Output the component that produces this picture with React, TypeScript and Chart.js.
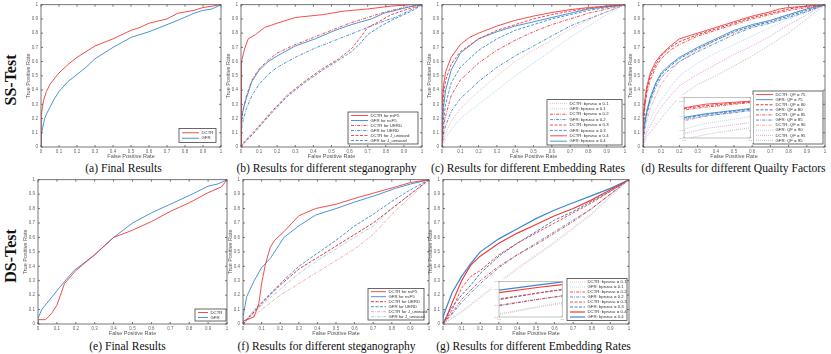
import React, { useEffect, useRef } from "react";
import { Chart, registerables } from "chart.js";

Chart.register(...registerables);
Chart.defaults.font.family = "'Liberation Sans', Arial, Helvetica, sans-serif";

type P = [number, number];

// ---------------- tick labels / texts ----------------
const TICK_VALUES = [0, 0.1, 0.2, 0.3, 0.4, 0.5, 0.6, 0.7, 0.8, 0.9, 1];
const TICK_LABELS = ["0", "0.1", "0.2", "0.3", "0.4", "0.5", "0.6", "0.7", "0.8", "0.9", "1"];
const X_TITLE = "False Positive Rate";
const Y_TITLE = "True Positive Rate";
const ROW_LABELS = ["SS-Test", "DS-Test"];

const LABELS_FINAL = ["DCTR", "GFR"];
const LABELS_STEGO = ["DCTR for nsF5", "GFR for nsF5", "DCTR for UERD", "GFR for UERD", "DCTR for J_uniward", "GFR for J_uniward"];
const LABELS_RATE = [
  "DCTR: bpnzac = 0.1", "GFR: bpnzac = 0.1", "DCTR: bpnzac = 0.2", "GFR: bpnzac = 0.2",
  "DCTR: bpnzac = 0.3", "GFR: bpnzac = 0.3", "DCTR: bpnzac = 0.4", "GFR: bpnzac = 0.4",
];
const LABELS_QF = [
  "DCTR: QF = 75", "GFR: QF = 75", "DCTR: QF = 80", "GFR: QF = 80", "DCTR: QF = 85",
  "GFR: QF = 85", "DCTR: QF = 90", "GFR: QF = 90", "DCTR: QF = 95", "GFR: QF = 95",
];
const CAPTIONS = [
  "(a) Final Results",
  "(b) Results for different steganography",
  "(c) Results for different Embedding Rates",
  "(d) Results for different Quailty Factors",
  "(e) Final Results",
  "(f) Results for different steganography",
  "(g) Results for different Embedding Rates",
];

// ---------------- (a) SS-Test final ----------------
const A_DCTR: P[] = [[0,0],[0,0.1],[0.003,0.22],[0.008,0.28],[0.015,0.33],[0.03,0.39],[0.05,0.44],[0.08,0.49],[0.1,0.52],[0.15,0.58],[0.2,0.63],[0.25,0.67],[0.3,0.71],[0.4,0.76],[0.5,0.82],[0.55,0.84],[0.6,0.87],[0.7,0.9],[0.76,0.94],[0.85,0.96],[0.9,0.98],[0.95,0.99],[1,1]];
const A_GFR: P[] = [[0,0],[0,0.08],[0.01,0.14],[0.02,0.2],[0.03,0.23],[0.05,0.28],[0.07,0.33],[0.1,0.39],[0.15,0.46],[0.2,0.51],[0.25,0.56],[0.3,0.62],[0.4,0.7],[0.5,0.77],[0.6,0.81],[0.7,0.86],[0.76,0.89],[0.85,0.94],[0.9,0.96],[0.95,0.97],[1,1]];

// ---------------- (b) SS-Test steganography ----------------
const B_DCTR_NSF5: P[] = [[0,0],[0,0.44],[0.005,0.6],[0.02,0.69],[0.04,0.76],[0.08,0.79],[0.13,0.84],[0.2,0.87],[0.3,0.91],[0.45,0.93],[0.57,0.955],[0.7,0.97],[0.83,0.99],[0.94,1],[1,1]];
const B_GFR_NSF5: P[] = [[0,0],[0,0.18],[0.015,0.28],[0.03,0.345],[0.06,0.46],[0.1,0.54],[0.15,0.6],[0.2,0.64],[0.3,0.71],[0.41,0.76],[0.52,0.82],[0.61,0.86],[0.72,0.9],[0.79,0.94],[0.9,0.975],[0.98,1],[1,1]];
const B_DCTR_UERD: P[] = [[0,0],[0,0.15],[0.01,0.25],[0.03,0.36],[0.06,0.47],[0.1,0.55],[0.15,0.61],[0.2,0.66],[0.3,0.72],[0.4,0.77],[0.5,0.82],[0.6,0.87],[0.7,0.91],[0.8,0.95],[0.9,0.98],[1,1]];
const B_GFR_UERD: P[] = [[0,0],[0,0.1],[0.01,0.18],[0.03,0.27],[0.06,0.36],[0.1,0.44],[0.15,0.51],[0.2,0.56],[0.3,0.63],[0.4,0.69],[0.5,0.74],[0.6,0.79],[0.7,0.84],[0.8,0.89],[0.85,0.91],[0.9,0.94],[1,1]];
const B_DCTR_JUNI: P[] = [[0,0],[0.02,0.04],[0.08,0.12],[0.17,0.25],[0.26,0.37],[0.35,0.46],[0.45,0.55],[0.54,0.62],[0.61,0.69],[0.66,0.77],[0.7,0.84],[0.76,0.88],[0.83,0.93],[0.9,0.96],[0.95,0.98],[1,1]];
const B_GFR_JUNI: P[] = [[0,0],[0.02,0.03],[0.08,0.11],[0.17,0.24],[0.26,0.36],[0.35,0.45],[0.45,0.54],[0.54,0.61],[0.61,0.67],[0.66,0.73],[0.7,0.79],[0.76,0.84],[0.83,0.89],[0.9,0.93],[0.95,0.96],[1,1]];

// ---------------- (c) SS-Test embedding rates ----------------
const C_DCTR_01: P[] = [[0,0],[0.02,0.1],[0.05,0.18],[0.1,0.27],[0.2,0.39],[0.3,0.5],[0.4,0.6],[0.5,0.68],[0.6,0.75],[0.7,0.83],[0.8,0.89],[0.9,0.95],[1,1]];
const C_GFR_01: P[] = [[0,0],[0.02,0.06],[0.05,0.12],[0.1,0.2],[0.2,0.3],[0.3,0.4],[0.4,0.5],[0.5,0.59],[0.6,0.68],[0.7,0.77],[0.8,0.85],[0.9,0.93],[1,1]];
const C_DCTR_02: P[] = [[0,0],[0.01,0.15],[0.02,0.22],[0.05,0.36],[0.1,0.47],[0.2,0.59],[0.3,0.68],[0.4,0.75],[0.5,0.81],[0.6,0.86],[0.7,0.9],[0.8,0.94],[0.9,0.97],[1,1]];
const C_GFR_02: P[] = [[0,0],[0.01,0.1],[0.02,0.15],[0.05,0.25],[0.1,0.34],[0.2,0.46],[0.3,0.56],[0.4,0.64],[0.5,0.71],[0.6,0.78],[0.7,0.85],[0.8,0.9],[0.9,0.95],[1,1]];
const C_DCTR_03: P[] = [[0,0],[0,0.2],[0.01,0.38],[0.02,0.47],[0.05,0.58],[0.1,0.67],[0.2,0.76],[0.3,0.82],[0.4,0.86],[0.5,0.9],[0.6,0.93],[0.7,0.955],[0.8,0.975],[0.9,0.99],[1,1]];
const C_GFR_03: P[] = [[0,0],[0.01,0.2],[0.02,0.3],[0.05,0.45],[0.1,0.56],[0.2,0.68],[0.3,0.76],[0.4,0.82],[0.5,0.86],[0.6,0.9],[0.7,0.93],[0.8,0.96],[0.9,0.98],[1,1]];
const C_DCTR_04: P[] = [[0,0],[0,0.3],[0.01,0.45],[0.02,0.53],[0.05,0.63],[0.1,0.72],[0.15,0.77],[0.2,0.8],[0.3,0.85],[0.4,0.89],[0.5,0.92],[0.6,0.945],[0.7,0.965],[0.8,0.98],[0.9,0.99],[1,1]];
const C_GFR_04: P[] = [[0,0],[0,0.1],[0.01,0.3],[0.02,0.4],[0.05,0.54],[0.1,0.66],[0.2,0.76],[0.3,0.81],[0.4,0.85],[0.5,0.88],[0.6,0.91],[0.7,0.94],[0.8,0.97],[0.9,0.985],[1,1]];

// ---------------- (d) SS-Test quality factors ----------------
const D_DCTR_75: P[] = [[0,0],[0,0.2],[0.01,0.33],[0.02,0.42],[0.04,0.52],[0.07,0.6],[0.1,0.65],[0.15,0.71],[0.2,0.76],[0.3,0.8],[0.4,0.84],[0.5,0.88],[0.6,0.92],[0.7,0.95],[0.75,0.97],[0.8,0.98],[0.9,0.99],[1,1]];
const D_GFR_75: P[] = [[0,0],[0,0.08],[0.01,0.18],[0.02,0.25],[0.04,0.35],[0.07,0.45],[0.1,0.52],[0.15,0.58],[0.2,0.63],[0.3,0.7],[0.4,0.76],[0.5,0.82],[0.6,0.86],[0.7,0.89],[0.8,0.93],[0.9,0.97],[1,1]];
const D_DCTR_80: P[] = [[0,0],[0,0.15],[0.01,0.3],[0.02,0.4],[0.04,0.5],[0.07,0.58],[0.1,0.64],[0.15,0.7],[0.2,0.74],[0.3,0.79],[0.4,0.83],[0.5,0.87],[0.6,0.91],[0.7,0.94],[0.8,0.97],[0.9,0.99],[1,1]];
const D_GFR_80: P[] = [[0,0],[0,0.07],[0.01,0.17],[0.02,0.24],[0.04,0.34],[0.07,0.44],[0.1,0.51],[0.15,0.57],[0.2,0.62],[0.3,0.69],[0.4,0.75],[0.5,0.81],[0.6,0.85],[0.7,0.88],[0.8,0.92],[0.9,0.96],[1,1]];
const D_DCTR_85: P[] = [[0,0],[0,0.12],[0.01,0.27],[0.02,0.37],[0.04,0.47],[0.07,0.56],[0.1,0.62],[0.15,0.68],[0.2,0.72],[0.3,0.78],[0.4,0.82],[0.5,0.86],[0.6,0.9],[0.7,0.93],[0.8,0.96],[0.9,0.98],[1,1]];
const D_GFR_85: P[] = [[0,0],[0,0.06],[0.01,0.15],[0.02,0.22],[0.04,0.32],[0.07,0.42],[0.1,0.49],[0.15,0.55],[0.2,0.6],[0.3,0.67],[0.4,0.73],[0.5,0.79],[0.6,0.84],[0.7,0.87],[0.8,0.91],[0.9,0.95],[1,1]];
const D_DCTR_90: P[] = [[0,0],[0.01,0.12],[0.02,0.18],[0.04,0.27],[0.07,0.36],[0.1,0.44],[0.15,0.53],[0.2,0.6],[0.3,0.68],[0.4,0.75],[0.5,0.8],[0.6,0.85],[0.7,0.89],[0.8,0.93],[0.9,0.97],[1,1]];
const D_GFR_90: P[] = [[0,0],[0.01,0.08],[0.02,0.12],[0.04,0.19],[0.07,0.27],[0.1,0.33],[0.15,0.42],[0.2,0.5],[0.3,0.59],[0.4,0.66],[0.5,0.72],[0.6,0.78],[0.7,0.84],[0.8,0.9],[0.9,0.95],[1,1]];
const D_DCTR_95: P[] = [[0,0],[0.01,0.06],[0.02,0.1],[0.04,0.15],[0.07,0.22],[0.1,0.28],[0.15,0.36],[0.2,0.43],[0.3,0.51],[0.4,0.58],[0.5,0.65],[0.6,0.71],[0.7,0.78],[0.8,0.86],[0.9,0.93],[1,1]];
const D_GFR_95: P[] = [[0,0],[0.01,0.04],[0.02,0.07],[0.05,0.12],[0.1,0.2],[0.15,0.28],[0.2,0.35],[0.3,0.44],[0.4,0.5],[0.5,0.57],[0.6,0.64],[0.7,0.72],[0.8,0.8],[0.9,0.9],[1,1]];

// ---------------- (e) DS-Test final ----------------
const E_DCTR: P[] = [[0,0],[0,0.03],[0.04,0.03],[0.07,0.07],[0.1,0.13],[0.14,0.28],[0.2,0.37],[0.3,0.48],[0.4,0.6],[0.5,0.65],[0.6,0.71],[0.7,0.78],[0.8,0.84],[0.9,0.91],[0.97,0.95],[1,1]];
const E_GFR: P[] = [[0,0],[0,0.04],[0.02,0.1],[0.06,0.165],[0.115,0.255],[0.19,0.37],[0.3,0.48],[0.4,0.6],[0.5,0.7],[0.6,0.77],[0.7,0.83],[0.8,0.89],[0.9,0.955],[0.95,0.97],[1,1]];

// ---------------- (f) DS-Test steganography ----------------
const F_DCTR_NSF5: P[] = [[0,0],[0,0.02],[0.06,0.05],[0.085,0.14],[0.1,0.28],[0.12,0.41],[0.146,0.53],[0.17,0.58],[0.22,0.64],[0.3,0.75],[0.39,0.8],[0.5,0.83],[0.6,0.87],[0.71,0.91],[0.82,0.95],[0.9,0.98],[1,1]];
const F_GFR_NSF5: P[] = [[0,0],[0,0.05],[0.01,0.12],[0.02,0.19],[0.06,0.3],[0.1,0.39],[0.15,0.46],[0.22,0.6],[0.3,0.68],[0.39,0.755],[0.5,0.8],[0.6,0.845],[0.71,0.89],[0.82,0.94],[0.9,0.97],[1,1]];
const F_DCTR_UERD: P[] = [[0,0],[0.05,0.07],[0.1,0.14],[0.2,0.27],[0.3,0.38],[0.4,0.46],[0.5,0.54],[0.6,0.62],[0.7,0.7],[0.8,0.8],[0.9,0.9],[1,1]];
const F_GFR_UERD: P[] = [[0,0],[0.05,0.08],[0.1,0.15],[0.2,0.28],[0.3,0.4],[0.4,0.49],[0.5,0.58],[0.6,0.68],[0.7,0.76],[0.8,0.85],[0.9,0.93],[1,1]];
const F_DCTR_JUNI: P[] = [[0,0],[0.1,0.1],[0.2,0.2],[0.3,0.28],[0.4,0.36],[0.5,0.44],[0.6,0.52],[0.7,0.62],[0.8,0.76],[0.9,0.88],[1,1]];
const F_GFR_JUNI: P[] = [[0,0],[0.1,0.13],[0.2,0.24],[0.3,0.35],[0.4,0.44],[0.5,0.52],[0.6,0.6],[0.7,0.68],[0.8,0.8],[0.9,0.9],[1,1]];

// ---------------- (g) DS-Test embedding rates ----------------
const G_DCTR_01: P[] = [[0,0],[0.1,0.08],[0.2,0.18],[0.3,0.28],[0.4,0.38],[0.5,0.47],[0.6,0.56],[0.7,0.66],[0.8,0.76],[0.9,0.88],[1,1]];
const G_GFR_01: P[] = [[0,0],[0.1,0.09],[0.2,0.19],[0.3,0.29],[0.4,0.39],[0.5,0.48],[0.6,0.57],[0.7,0.67],[0.8,0.77],[0.9,0.89],[1,1]];
const G_DCTR_02: P[] = [[0,0],[0.05,0.08],[0.1,0.17],[0.2,0.3],[0.3,0.4],[0.4,0.48],[0.5,0.55],[0.6,0.63],[0.7,0.71],[0.8,0.8],[0.9,0.9],[1,1]];
const G_GFR_02: P[] = [[0,0],[0.05,0.07],[0.1,0.15],[0.2,0.28],[0.3,0.39],[0.4,0.48],[0.5,0.56],[0.6,0.64],[0.7,0.72],[0.8,0.8],[0.9,0.9],[1,1]];
const G_DCTR_03: P[] = [[0,0],[0.05,0.1],[0.1,0.25],[0.15,0.33],[0.2,0.37],[0.3,0.48],[0.4,0.56],[0.5,0.63],[0.6,0.7],[0.7,0.77],[0.8,0.84],[0.9,0.92],[1,1]];
const G_GFR_03: P[] = [[0,0],[0.02,0.06],[0.05,0.12],[0.1,0.2],[0.15,0.27],[0.2,0.35],[0.3,0.47],[0.4,0.56],[0.5,0.64],[0.6,0.72],[0.7,0.78],[0.8,0.85],[0.9,0.92],[1,1]];
const G_DCTR_04: P[] = [[0,0],[0.02,0.05],[0.05,0.15],[0.1,0.3],[0.15,0.41],[0.2,0.47],[0.3,0.56],[0.4,0.63],[0.5,0.69],[0.6,0.75],[0.7,0.8],[0.8,0.86],[0.9,0.93],[1,1]];
const G_GFR_04: P[] = [[0,0],[0,0.05],[0.02,0.12],[0.05,0.22],[0.1,0.33],[0.15,0.42],[0.2,0.5],[0.3,0.59],[0.4,0.66],[0.5,0.73],[0.6,0.79],[0.7,0.84],[0.8,0.89],[0.9,0.94],[1,1]];

// ---------------- styles ----------------
const RED = "#f03a3a";
const BLUE = "#3a88cf";
const DKRED = "#d42626";
const DKBLUE = "#2a70b4";
const PINK = "#f3a2a2";
const LBLUE = "#9dc7ea";
const MAGENTA = "#e07fe0";
const GRAY = "#acacac";
const SOLID: number[] = [];
const DASH = [3, 1.5];
const DASHDOT = [3, 1.2, 0.8, 1.2];
const DOT = [0.8, 1.2];

type Series = { label: string; data: P[]; color: string; dash: number[]; width?: number };
const mk = (label: string, data: P[], color: string, dash: number[], width = 0.9): Series => ({ label, data, color, dash, width });

type Legend = { w: number; rowH: number; padY: number; mr: number; mb: number; sample: number };
type Spec = {
  plot: { l: number; r: number; t: number; b: number };
  series: Series[];
  legend: Legend;
  inset?: { left: number; top: number; w: number; h: number; x0: number; x1: number; y0: number; y1: number };
};

const YW = 16;
const XH = 13;
const TOP_PAD = 3;
const RIGHT_PAD = 5;

const SPECS: Spec[] = [
  {
    plot: { l: 41, r: 221, t: 2, b: 147 },
    series: [mk(LABELS_FINAL[0], A_DCTR, RED, SOLID), mk(LABELS_FINAL[1], A_GFR, BLUE, SOLID)],
    legend: { w: 37, rowH: 5.5, padY: 1.5, mr: 5, mb: 4.5, sample: 17 },
  },
  {
    plot: { l: 241, r: 422, t: 2, b: 147 },
    series: [
      mk(LABELS_STEGO[0], B_DCTR_NSF5, RED, SOLID), mk(LABELS_STEGO[1], B_GFR_NSF5, BLUE, SOLID),
      mk(LABELS_STEGO[2], B_DCTR_UERD, RED, DASHDOT), mk(LABELS_STEGO[3], B_GFR_UERD, BLUE, DASHDOT),
      mk(LABELS_STEGO[4], B_DCTR_JUNI, RED, DASH), mk(LABELS_STEGO[5], B_GFR_JUNI, BLUE, DASH),
    ],
    legend: { w: 70, rowH: 5, padY: 1, mr: 4, mb: 3, sample: 17 },
  },
  {
    plot: { l: 442, r: 625, t: 2, b: 147 },
    series: [
      mk(LABELS_RATE[0], C_DCTR_01, PINK, DOT), mk(LABELS_RATE[1], C_GFR_01, LBLUE, DOT),
      mk(LABELS_RATE[2], C_DCTR_02, RED, DASHDOT), mk(LABELS_RATE[3], C_GFR_02, BLUE, DASHDOT),
      mk(LABELS_RATE[4], C_DCTR_03, RED, DASH), mk(LABELS_RATE[5], C_GFR_03, BLUE, DASH),
      mk(LABELS_RATE[6], C_DCTR_04, RED, SOLID), mk(LABELS_RATE[7], C_GFR_04, BLUE, SOLID),
    ],
    legend: { w: 75, rowH: 5.4, padY: 1.1, mr: 3, mb: 2, sample: 17 },
  },
  {
    plot: { l: 643, r: 825, t: 2, b: 147 },
    series: [
      mk(LABELS_QF[0], D_DCTR_75, RED, SOLID), mk(LABELS_QF[1], D_GFR_75, BLUE, SOLID),
      mk(LABELS_QF[2], D_DCTR_80, DKRED, DASH), mk(LABELS_QF[3], D_GFR_80, DKBLUE, DASH),
      mk(LABELS_QF[4], D_DCTR_85, RED, DASHDOT), mk(LABELS_QF[5], D_GFR_85, BLUE, DASHDOT),
      mk(LABELS_QF[6], D_DCTR_90, PINK, DASHDOT), mk(LABELS_QF[7], D_GFR_90, LBLUE, DOT),
      mk(LABELS_QF[8], D_DCTR_95, MAGENTA, DOT), mk(LABELS_QF[9], D_GFR_95, GRAY, DOT),
    ],
    legend: { w: 70, rowH: 5.1, padY: 1, mr: 2, mb: 3, sample: 17 },
    inset: { left: 677, top: 95, w: 76, h: 48, x0: 0.15, x1: 0.3, y0: 0.3, y1: 0.85 },
  },
  {
    plot: { l: 38, r: 227, t: 177, b: 324 },
    series: [mk(LABELS_FINAL[0], E_DCTR, RED, SOLID), mk(LABELS_FINAL[1], E_GFR, BLUE, SOLID)],
    legend: { w: 31, rowH: 5, padY: 1, mr: 1, mb: 3, sample: 10 },
  },
  {
    plot: { l: 243, r: 429, t: 177, b: 324 },
    series: [
      mk(LABELS_STEGO[0], F_DCTR_NSF5, RED, SOLID), mk(LABELS_STEGO[1], F_GFR_NSF5, BLUE, SOLID),
      mk(LABELS_STEGO[2], F_DCTR_UERD, DKRED, DASH), mk(LABELS_STEGO[3], F_GFR_UERD, BLUE, DASH),
      mk(LABELS_STEGO[4], F_DCTR_JUNI, PINK, DASHDOT), mk(LABELS_STEGO[5], F_GFR_JUNI, LBLUE, DASHDOT),
    ],
    legend: { w: 56, rowH: 5, padY: 0.8, mr: 5, mb: 4, sample: 15 },
  },
  {
    plot: { l: 443, r: 629, t: 177, b: 324 },
    series: [
      mk(LABELS_RATE[0], G_DCTR_01, PINK, DOT), mk(LABELS_RATE[1], G_GFR_01, LBLUE, DOT),
      mk(LABELS_RATE[2], G_DCTR_02, RED, DASHDOT), mk(LABELS_RATE[3], G_GFR_02, BLUE, DASHDOT),
      mk(LABELS_RATE[4], G_DCTR_03, RED, DASH), mk(LABELS_RATE[5], G_GFR_03, DKBLUE, DASH),
      mk(LABELS_RATE[6], G_DCTR_04, RED, SOLID, 1.2), mk(LABELS_RATE[7], G_GFR_04, BLUE, SOLID, 1.2),
    ],
    legend: { w: 60, rowH: 5, padY: 1, mr: 2, mb: 3.5, sample: 15 },
    inset: { left: 492, top: 279, w: 73, h: 43, x0: 0.3, x1: 0.45, y0: 0.25, y1: 0.7 },
  },
];

const CAPTION_POS = [
  { x: 123.5, y: 169 }, { x: 326.5, y: 169 }, { x: 528, y: 169 }, { x: 733.5, y: 169 },
  { x: 127.5, y: 347 }, { x: 326.5, y: 347 }, { x: 533.5, y: 347 },
];
const ROW_LABEL_POS = [{ x: 11, y: 80 }, { x: 11, y: 256 }];

// ---------------- plugins ----------------
const framePlugin = {
  id: "frame",
  afterDatasetsDraw(chart: any, _a: any, opts: any) {
    const { ctx, chartArea: a, scales } = chart;
    ctx.save();
    ctx.strokeStyle = (opts && opts.color) || "#555";
    ctx.lineWidth = (opts && opts.lineWidth) || 0.8;
    ctx.setLineDash([]);
    ctx.strokeRect(a.left, a.top, a.right - a.left, a.bottom - a.top);
    const len = (opts && opts.tick) || 2;
    ctx.beginPath();
    for (const t of scales.x.ticks) {
      const x = scales.x.getPixelForValue(t.value);
      ctx.moveTo(x, a.bottom); ctx.lineTo(x, a.bottom - len);
      ctx.moveTo(x, a.top); ctx.lineTo(x, a.top + len);
    }
    for (const t of scales.y.ticks) {
      const y = scales.y.getPixelForValue(t.value);
      ctx.moveTo(a.left, y); ctx.lineTo(a.left + len, y);
      ctx.moveTo(a.right, y); ctx.lineTo(a.right - len, y);
    }
    ctx.stroke();
    ctx.restore();
  },
};

const legendPlugin = {
  id: "boxLegend",
  afterDraw(chart: any, _a: any, opts: any) {
    if (!opts || !opts.w) return;
    const { ctx, chartArea: a } = chart;
    const ds = chart.data.datasets;
    const h = ds.length * opts.rowH + opts.padY * 2;
    const x0 = a.right - opts.mr - opts.w;
    const y0 = a.bottom - opts.mb - h;
    ctx.save();
    ctx.fillStyle = "#fff";
    ctx.fillRect(x0, y0, opts.w, h);
    ctx.strokeStyle = "#444";
    ctx.lineWidth = 0.8;
    ctx.setLineDash([]);
    ctx.strokeRect(x0, y0, opts.w, h);
    ctx.font = "4.3px 'Liberation Sans', Arial, sans-serif";
    ctx.textBaseline = "middle";
    ds.forEach((d: any, i: number) => {
      const cy = y0 + opts.padY + opts.rowH * (i + 0.5);
      ctx.beginPath();
      ctx.setLineDash(d.borderDash || []);
      ctx.strokeStyle = d.borderColor;
      ctx.lineWidth = d.borderWidth;
      ctx.moveTo(x0 + 3, cy);
      ctx.lineTo(x0 + 3 + opts.sample, cy);
      ctx.stroke();
      ctx.setLineDash([]);
      ctx.fillStyle = "#333";
      ctx.fillText(d.label, x0 + 3 + opts.sample + 2.5, cy);
    });
    ctx.restore();
  },
};

const whiteBg = {
  id: "whiteBg",
  beforeDraw(chart: any) {
    const { ctx, width, height } = chart;
    ctx.save();
    ctx.fillStyle = "#fff";
    ctx.fillRect(0, 0, width, height);
    ctx.restore();
  },
};

// ---------------- configs ----------------
function toDataset(s: Series) {
  return {
    label: s.label,
    data: s.data.map(([x, y]) => ({ x, y })),
    borderColor: s.color,
    borderDash: s.dash,
    borderWidth: s.width ?? 0.9,
    pointRadius: 0,
    fill: false,
    tension: 0,
  };
}

function mainAxis(dir: "x" | "y", title: string) {
  return {
    type: "linear",
    min: 0,
    max: 1,
    afterBuildTicks: (s: any) => {
      s.ticks = TICK_VALUES.map((v) => ({ value: v }));
    },
    ticks: {
      autoSkip: false,
      maxRotation: 0,
      font: { size: 4.5 },
      color: "#666",
      padding: dir === "x" ? 2 : 3,
      callback: (_v: any, i: number) => TICK_LABELS[i],
    },
    grid: { display: false, drawTicks: false },
    border: { display: false },
    title: { display: true, text: title, font: { size: 5.5 }, color: "#555", padding: 0 },
    afterFit: (s: any) => {
      if (dir === "x") s.height = XH;
      else s.width = YW;
    },
  };
}

function mainConfig(spec: Spec): any {
  return {
    type: "line",
    data: { datasets: spec.series.map(toDataset) },
    options: {
      animation: false,
      responsive: false,
      maintainAspectRatio: false,
      events: [],
      layout: { padding: { top: TOP_PAD, right: RIGHT_PAD, left: 0, bottom: 0 } },
      plugins: {
        legend: { display: false },
        tooltip: { enabled: false },
        boxLegend: spec.legend,
        frame: { color: "#555", lineWidth: 0.8, tick: 2 },
      },
      scales: { x: mainAxis("x", X_TITLE), y: mainAxis("y", Y_TITLE) },
    },
    plugins: [framePlugin, legendPlugin],
  };
}

function insetConfig(spec: Spec): any {
  const ins = spec.inset!;
  const ax = (dir: "x" | "y", min: number, max: number) => ({
    type: "linear",
    min,
    max,
    ticks: { font: { size: 2.5 }, color: "#888", padding: 1, maxRotation: 0, autoSkip: false, maxTicksLimit: 5 },
    grid: { display: false, drawTicks: false },
    border: { display: false },
    afterFit: (s: any) => {
      if (dir === "x") s.height = 4;
      else s.width = 6;
    },
  });
  return {
    type: "line",
    data: { datasets: spec.series.map(toDataset) },
    options: {
      animation: false,
      responsive: false,
      maintainAspectRatio: false,
      events: [],
      layout: { padding: { top: 2, right: 2, left: 1, bottom: 1 } },
      plugins: { legend: { display: false }, tooltip: { enabled: false }, frame: { color: "#999", lineWidth: 0.6, tick: 1 } },
      scales: { x: ax("x", ins.x0, ins.x1), y: ax("y", ins.y0, ins.y1) },
    },
    plugins: [whiteBg, framePlugin],
  };
}

// ---------------- components ----------------
function CanvasChart({ left, top, w, h, config, z }: { left: number; top: number; w: number; h: number; config: () => any; z: number }) {
  const ref = useRef<HTMLCanvasElement>(null);
  useEffect(() => {
    const chart = new Chart(ref.current as HTMLCanvasElement, config());
    return () => chart.destroy();
  }, []);
  return (
    <canvas
      ref={ref}
      width={w}
      height={h}
      style={{ position: "absolute", left, top, width: w, height: h, zIndex: z }}
    />
  );
}

export default function App() {
  return (
    <div style={{ position: "absolute", left: 0, top: 0, width: 831, height: 354, background: "#fff", overflow: "hidden" }}>
      {SPECS.map((s, i) => {
        const w = YW + (s.plot.r - s.plot.l) + RIGHT_PAD;
        const h = TOP_PAD + (s.plot.b - s.plot.t) + XH;
        return (
          <CanvasChart
            key={"m" + i}
            left={s.plot.l - YW}
            top={s.plot.t - TOP_PAD}
            w={w}
            h={h}
            z={1}
            config={() => mainConfig(s)}
          />
        );
      })}
      {SPECS.map((s, i) =>
        s.inset ? (
          <CanvasChart
            key={"i" + i}
            left={s.inset.left}
            top={s.inset.top}
            w={s.inset.w}
            h={s.inset.h}
            z={2}
            config={() => insetConfig(s)}
          />
        ) : null
      )}
      {CAPTIONS.map((c, i) => (
        <div
          key={"c" + i}
          style={{
            position: "absolute",
            left: CAPTION_POS[i].x,
            top: CAPTION_POS[i].y - 7,
            transform: "translateX(-50%)",
            whiteSpace: "nowrap",
            font: "11.6px 'Liberation Serif', 'Times New Roman', serif",
            lineHeight: "14px",
            color: "#111",
          }}
        >
          {c}
        </div>
      ))}
      {ROW_LABELS.map((t, i) => (
        <div
          key={"r" + i}
          style={{
            position: "absolute",
            left: ROW_LABEL_POS[i].x,
            top: ROW_LABEL_POS[i].y,
            transform: "translate(-50%, -50%) rotate(-90deg)",
            whiteSpace: "nowrap",
            font: "bold 16px 'Liberation Serif', 'Times New Roman', serif",
            lineHeight: "18px",
            color: "#111",
          }}
        >
          {t}
        </div>
      ))}
    </div>
  );
}
